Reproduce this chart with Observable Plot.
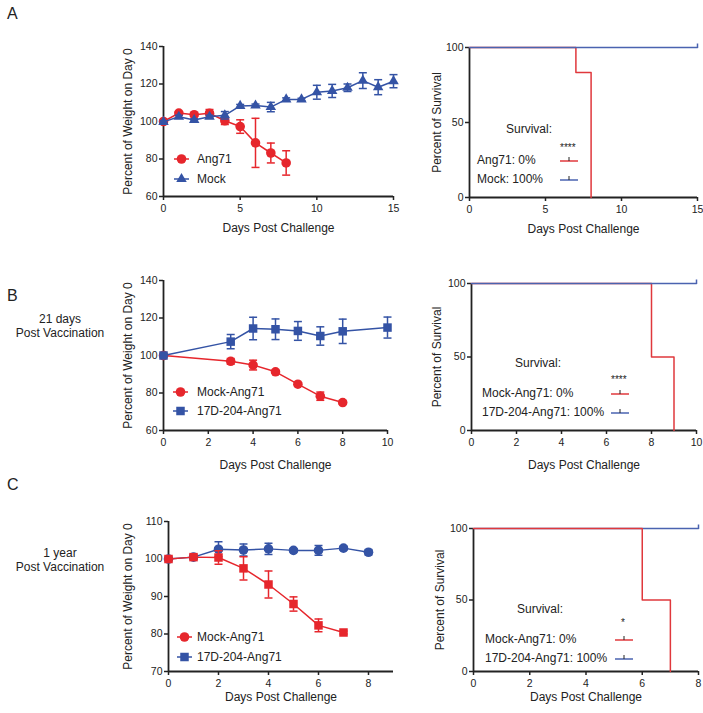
<!DOCTYPE html>
<html><head><meta charset="utf-8">
<script src="https://cdn.jsdelivr.net/npm/d3@7"></script>
<script src="https://cdn.jsdelivr.net/npm/@observablehq/plot@0.6"></script>
<style>
body{margin:0;background:#fff;}
#root{position:relative;width:703px;height:713px;overflow:hidden;background:#fff;font-family:"Liberation Sans",Arial,Helvetica,sans-serif;color:#222;}
#root svg{overflow:visible;}
.pl{position:absolute;}
.lab{position:absolute;font-size:16px;line-height:16px;}
.side{position:absolute;font-size:12px;text-align:center;line-height:13px;width:120px;}
.leg{position:absolute;font-size:12px;line-height:14px;white-space:nowrap;}
.sym{position:absolute;}
</style></head><body><div id="root"></div>
<script>
// ---------- Panel A: weight ----------
const aAng71Days = [0,1,2,3,4,5,6,7,8];
const aAng71Mean = [100,104.5,103.6,104.4,100.4,97.3,88.6,83.2,77.9];
const aAng71Err  = [0.8,0.8,0.8,2.0,2.0,3.6,13.1,5.3,6.5];
const aMockDays  = [0,1,2,3,4,5,6,7,8,9,10,11,12,13,14,15];
const aMockMean  = [99.8,102.5,100.8,102.5,103.3,108.3,108.5,107.7,111.8,111.8,115.6,116.3,118.0,121.8,118.3,121.5];
const aMockErr   = [0.6,0.8,0.6,0.8,2.0,0.8,0.8,2.5,0.8,0.6,3.7,3.5,2.0,4.2,4.0,3.5];
// ---------- Panel A: survival ----------
const aSurvAng71Day = [0,7,8];
const aSurvAng71Pct = [100,83.3,0];
const aSurvMockDay  = [0,15];
const aSurvMockPct  = [100,100];

// ---------- Panel B: weight ----------
const bMockAngDays = [0,3,4,5,6,7,8];
const bMockAngMean = [100,96.9,94.9,91.3,84.7,78.3,74.9];
const bMockAngErr  = [0.5,1.5,2.6,0.8,0.8,2.2,0.8];
const bVacDays = [0,3,4,5,6,7,8,10];
const bVacMean = [100,107.4,114.4,114.0,113.1,110.4,112.9,114.9];
const bVacErr  = [0.5,3.8,6.0,5.5,5.0,4.9,6.5,5.6];
// ---------- Panel B: survival ----------
const bSurvMockDay = [0,8,9];
const bSurvMockPct = [100,50,0];
const bSurvVacDay  = [0,10];
const bSurvVacPct  = [100,100];

// ---------- Panel C: weight ----------
const cMockAngDays = [0,1,2,3,4,5,6,7];
const cMockAngMean = [100,100.5,100.4,97.5,93.2,88.0,82.3,80.4];
const cMockAngErr  = [0.3,0.5,1.8,3.1,3.6,1.9,1.7,0.4];
const cVacDays = [0,1,2,3,4,5,6,7,8];
const cVacMean = [100,100.5,102.6,102.4,102.7,102.3,102.3,102.9,101.8];
const cVacErr  = [0.3,0.5,2.0,1.6,1.5,0.4,1.3,0.5,0.7];
// ---------- Panel C: survival ----------
const cSurvMockDay = [0,6,7];
const cSurvMockPct = [100,50,0];
const cSurvVacDay  = [0,8];
const cSurvVacPct  = [100,100];

// ---------- tick labels ----------
const aWeightXTicks = [0,5,10,15], aWeightYTicks = [60,80,100,120,140];
const aSurvXTicks = [0,5,10,15];
const bWeightXTicks = [0,2,4,6,8,10], bWeightYTicks = [60,80,100,120,140];
const bSurvXTicks = [0,2,4,6,8,10];
const cWeightXTicks = [0,2,4,6,8], cWeightYTicks = [70,80,90,100,110];
const cSurvXTicks = [0,2,4,6,8];
const survYTicks = [0,50,100];

const RED = "#e6262c", BLUE = "#3453a5";
const SRED = "#e0383c", SBLUE = "#4a63b0";
const AX = "#222";
const FONT = '"Liberation Sans", Arial, Helvetica, sans-serif';

const hbar = {draw(ctx){ ctx.moveTo(-4,0); ctx.lineTo(4,0); }};
const vbarUp = {draw(ctx){ ctx.moveTo(0,-4); ctx.lineTo(0,0); }};

function rows(days, mean, err){ return days.map((d,i)=>({day:d, mean:mean[i], err:err?err[i]:0})); }

const root = document.getElementById("root");

function place(node, left, top){
  node.classList.add("pl");
  node.style.left = left+"px"; node.style.top = top+"px";
  root.appendChild(node);
}

function axesMarks(cfg){
  return [
    Plot.ruleY([cfg.yDomain[0]], {stroke:AX, strokeWidth:1.8}),
    Plot.ruleX([cfg.xDomain[0]], {stroke:AX, strokeWidth:1.8}),
    Plot.axisX({ticks:cfg.xTicks, tickSize:4, tickPadding:4, strokeWidth:1.5, fontSize:10.5, label:null, tickFormat:d=>String(d)}),
    Plot.axisY({ticks:cfg.yTicks, tickSize:4, tickPadding:2, strokeWidth:1.5, fontSize:10.5, label:null, tickFormat:d=>String(d)}),
    Plot.text([cfg.xTitle], {frameAnchor:"bottom", dy:cfg.xTitleDy, fontSize:12, text:d=>d, fill:AX, textAnchor:"middle", lineAnchor:"middle"}),
    Plot.text([cfg.yTitle], {frameAnchor:"left", dx:cfg.yTitleDx, rotate:-90, fontSize:12, text:d=>d, fill:AX, textAnchor:"middle", lineAnchor:"middle"})
  ];
}

function weightPlot(cfg){
  const marks = axesMarks(cfg);
  for (const s of cfg.series){
    const data = rows(s.days, s.mean, s.err);
    marks.push(Plot.line(data, {x:"day", y:"mean", stroke:s.color, strokeWidth:1.5}));
    marks.push(Plot.ruleX(data, {x:"day", y1:d=>d.mean-d.err, y2:d=>d.mean+d.err, stroke:s.color, strokeWidth:1.5}));
    marks.push(Plot.dot(data, {x:"day", y:d=>d.mean+d.err, symbol:hbar, stroke:s.color, fill:"none", strokeWidth:1.5}));
    marks.push(Plot.dot(data, {x:"day", y:d=>d.mean-d.err, symbol:hbar, stroke:s.color, fill:"none", strokeWidth:1.5}));
    marks.push(Plot.dot(data, {x:"day", y:"mean", symbol:s.symbol, r:s.r, fill:s.color, stroke:"none"}));
  }
  return Plot.plot({
    width:cfg.width, height:cfg.height,
    marginLeft:cfg.ml, marginRight:cfg.mr, marginTop:cfg.mt, marginBottom:cfg.mb,
    style:{fontFamily:FONT, color:AX, background:"transparent", overflow:"visible"},
    x:{domain:cfg.xDomain, label:null}, y:{domain:cfg.yDomain, label:null},
    marks
  });
}

function survPlot(cfg){
  cfg.yDomain = [0,100];
  const marks = axesMarks(cfg);
  for (const s of cfg.series){
    const data = rows(s.days, s.pct);
    marks.push(Plot.line(data, {x:"day", y:"mean", curve:"step-after", stroke:s.color, strokeWidth:1.5}));
    if (s.censor) marks.push(Plot.dot([data[data.length-1]], {x:"day", y:"mean", symbol:vbarUp, stroke:s.color, fill:"none", strokeWidth:1.5}));
  }
  return Plot.plot({
    width:cfg.width, height:cfg.height,
    marginLeft:cfg.ml, marginRight:cfg.mr, marginTop:cfg.mt, marginBottom:cfg.mb,
    style:{fontFamily:FONT, color:AX, background:"transparent", overflow:"visible"},
    x:{domain:cfg.xDomain, label:null}, y:{domain:cfg.yDomain, label:null},
    marks
  });
}

const WT = "Percent of Weight on Day 0", ST = "Percent of Survival", XT = "Days Post Challenge";

// ---- A ----
place(weightPlot({width:310,height:210,ml:73,mr:7,mt:16,mb:44,
  xDomain:[0,15], yDomain:[60,140], xTicks:aWeightXTicks, yTicks:aWeightYTicks,
  xTitle:XT, yTitle:WT, xTitleDy:32, yTitleDx:-35,
  series:[
    {days:aAng71Days, mean:aAng71Mean, err:aAng71Err, color:RED, symbol:"circle", r:4.8},
    {days:aMockDays, mean:aMockMean, err:aMockErr, color:BLUE, symbol:"triangle", r:3.9}
  ]}), 90, 30);
place(survPlot({width:303,height:212,ml:69,mr:6,mt:17,mb:45,
  xDomain:[0,15], xTicks:aSurvXTicks, yTicks:survYTicks,
  xTitle:XT, yTitle:ST, xTitleDy:32, yTitleDx:-32,
  series:[
    {days:aSurvAng71Day, pct:aSurvAng71Pct, color:SRED},
    {days:aSurvMockDay, pct:aSurvMockPct, color:SBLUE, censor:true}
  ]}), 400, 30);

// ---- B ----
place(weightPlot({width:310,height:210,ml:73,mr:13,mt:18,mb:42,
  xDomain:[0,10], yDomain:[60,140], xTicks:bWeightXTicks, yTicks:bWeightYTicks,
  xTitle:XT, yTitle:WT, xTitleDy:35, yTitleDx:-35,
  series:[
    {days:bMockAngDays, mean:bMockAngMean, err:bMockAngErr, color:RED, symbol:"circle", r:4.8},
    {days:bVacDays, mean:bVacMean, err:bVacErr, color:BLUE, symbol:"square", r:4.8}
  ]}), 90, 262);
place(survPlot({width:303,height:210,ml:71,mr:7,mt:21,mb:42,
  xDomain:[0,10], xTicks:bSurvXTicks, yTicks:survYTicks,
  xTitle:XT, yTitle:ST, xTitleDy:35, yTitleDx:-34,
  series:[
    {days:bSurvMockDay, pct:bSurvMockPct, color:SRED},
    {days:bSurvVacDay, pct:bSurvVacPct, color:SBLUE, censor:true}
  ]}), 400, 262);

// ---- C ----
place(weightPlot({width:310,height:213,ml:78,mr:7,mt:21,mb:42,
  xDomain:[0,9], yDomain:[70,110], xTicks:cWeightXTicks, yTicks:cWeightYTicks,
  xTitle:XT, yTitle:WT, xTitleDy:26, yTitleDx:-40,
  series:[
    {days:cVacDays, mean:cVacMean, err:cVacErr, color:BLUE, symbol:"circle", r:4.8},
    {days:cMockAngDays, mean:cMockAngMean, err:cMockAngErr, color:RED, symbol:"square", r:4.8}
  ]}), 90, 500);
place(survPlot({width:303,height:213,ml:73,mr:5,mt:28,mb:42,
  xDomain:[0,8], xTicks:cSurvXTicks, yTicks:survYTicks,
  xTitle:XT, yTitle:ST, xTitleDy:26, yTitleDx:-33,
  series:[
    {days:cSurvVacDay, pct:cSurvVacPct, color:SBLUE, censor:true},
    {days:cSurvMockDay, pct:cSurvMockPct, color:SRED}
  ]}), 400, 500);

// ---- text labels ----
function div(cls, text, left, top){
  const d = document.createElement("div"); d.className = cls; d.textContent = text;
  d.style.left = left+"px"; d.style.top = top+"px"; root.appendChild(d); return d;
}
const panelLetters = ["A","B","C"];
div("lab", panelLetters[0], 7, 6);
div("lab", panelLetters[1], 7, 288);
div("lab", panelLetters[2], 7, 477);
const sideLabels = [["21 days","Post Vaccination"],["1 year","Post Vaccination"]];
div("side", sideLabels[0][0], 0, 313); div("side", sideLabels[0][1], 0, 327);
div("side", sideLabels[1][0], 0, 547); div("side", sideLabels[1][1], 0, 561);

// ---- weight legends ----
function wLegendRow(color, symbol, text, lineX, cy, r){
  const s = document.createElementNS("http://www.w3.org/2000/svg","svg");
  s.setAttribute("width",20); s.setAttribute("height",12); s.setAttribute("class","sym");
  s.style.left = lineX+"px"; s.style.top = (cy-6)+"px";
  const sym = d3.symbol(symbol==="circle"?d3.symbolCircle:symbol==="square"?d3.symbolSquare:d3.symbolTriangle, r*r*Math.PI)();
  s.innerHTML = `<line x1="0" x2="15" y1="6" y2="6" stroke="${color}" stroke-width="1.5"/><path d="${sym}" transform="translate(7.5,6)" fill="${color}"/>`;
  root.appendChild(s);
  div("leg", text, 197, cy-7);
}
wLegendRow(RED, "circle", "Ang71", 174, 159, 4.8);
wLegendRow(BLUE, "triangle", "Mock", 174, 179, 3.9);
wLegendRow(RED, "circle", "Mock-Ang71", 173, 392, 4.8);
wLegendRow(BLUE, "square", "17D-204-Ang71", 173, 411, 4.8);
wLegendRow(RED, "circle", "Mock-Ang71", 177, 637, 4.8);
wLegendRow(BLUE, "square", "17D-204-Ang71", 177, 657, 4.8);

// ---- survival legends ----
function sLegendRow(color, text, textX, lineX, cy){
  div("leg", text, textX, cy-7);
  const s = document.createElementNS("http://www.w3.org/2000/svg","svg");
  s.setAttribute("width",20); s.setAttribute("height",12); s.setAttribute("class","sym");
  s.style.left = lineX+"px"; s.style.top = (cy-6)+"px";
  s.innerHTML = `<line x1="0" x2="18" y1="7" y2="7" stroke="${color}" stroke-width="1.5"/><line x1="9" x2="9" y1="3" y2="7" stroke="#222" stroke-width="1"/>`;
  root.appendChild(s);
}
const survTitle = "Survival:";
div("leg", survTitle, 506, 122);
div("leg", "****", 560, 141).style.fontSize = "10px";
sLegendRow(SRED, "Ang71: 0%", 477, 560, 160);
sLegendRow(SBLUE, "Mock: 100%", 477, 560, 179);

div("leg", survTitle, 515, 356);
div("leg", "****", 611, 373).style.fontSize = "10px";
sLegendRow(SRED, "Mock-Ang71: 0%", 482, 611, 393);
sLegendRow(SBLUE, "17D-204-Ang71: 100%", 482, 611, 412);

div("leg", survTitle, 517, 602);
div("leg", "*", 621, 616).style.fontSize = "10px";
sLegendRow(SRED, "Mock-Ang71: 0%", 485, 615, 639);
sLegendRow(SBLUE, "17D-204-Ang71: 100%", 485, 615, 658);
</script></body></html>
